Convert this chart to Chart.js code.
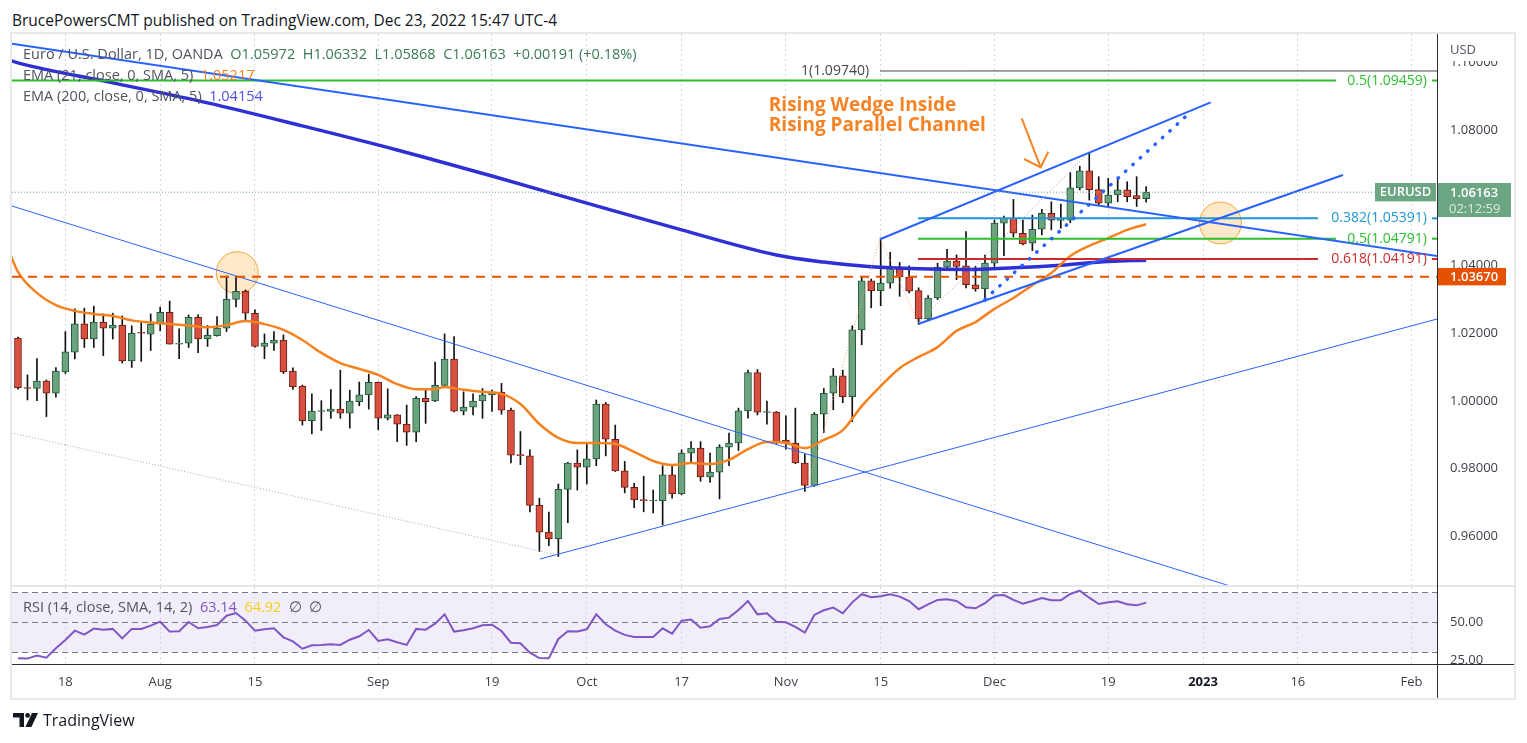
<!DOCTYPE html>
<html lang="en">
<head>
<meta charset="utf-8">
<title>EURUSD 1D - Rising Wedge Inside Rising Parallel Channel</title>
<script src="https://cdn.jsdelivr.net/npm/chart.js"></script>
<style>
    html, body { margin: 0; padding: 0; background: #ffffff; }
    body { position: relative; width: 1527px; height: 743px; overflow: hidden; font-family: "Open Sans", Roboto, sans-serif; color: #131722; }
    .abs { position: absolute; }
    #frame { left: 10px; top: 32px; width: 1506px; height: 668px; border: 2px solid #e6e8ee; box-sizing: border-box; }
    #main { left: 0; top: 0; }
    #rsi { left: 0; top: 586px; }
    #byline { left: 12px; top: 9px; font-size: 15.5px; line-height: 22px; color: #131722; white-space: pre; }
    .legend { left: 23px; font-size: 14.5px; line-height: 20px; color: #50535e; white-space: pre; }
    .ohlc { color: #3c7a55; }
    .v21 { color: #f5821f; }
    .v200 { color: #4f4fe6; }
    .vrsi { color: #7e57c2; }
    .vma { color: #f2cf1d; }
    .rule { background: #2a2e39; }
    .sep { background: #e4e6ec; }
    #brand { left: 13px; top: 709px; font-size: 16px; line-height: 22px; color: #131722; display: flex; align-items: center; }
    #brand svg { margin-right: 5px; }
</style>
</head>
<body>
<div id="frame" class="abs"></div>
<div id="byline" class="abs">BrucePowersCMT published on TradingView.com, Dec 23, 2022 15:47 UTC-4</div>
<canvas id="main" class="abs" width="1527" height="586"></canvas>
<canvas id="rsi" class="abs" width="1527" height="157"></canvas>

<div class="abs sep" style="left:12px; top:585px; width:1502px; height:2px;"></div>
<div class="abs rule" style="left:1437px; top:34px; width:1px; height:664px;"></div>
<div class="abs rule" style="left:12px; top:664px; width:1502px; height:1px;"></div>

<div class="abs legend" style="top:44px;">Euro / U.S. Dollar, 1D, OANDA  <span class="ohlc">O1.05972  H1.06332  L1.05868  C1.06163  +0.00191 (+0.18%)</span></div>
<div class="abs legend" style="top:65px;">EMA (21, close, 0, SMA, 5)  <span class="v21">1.05217</span></div>
<div class="abs legend" style="top:86px;">EMA (200, close, 0, SMA, 5)  <span class="v200">1.04154</span></div>
<div class="abs legend" style="top:597px;">RSI (14, close, SMA, 14, 2)  <span class="vrsi">63.14</span>  <span class="vma">64.92</span>  ∅  ∅</div>

<div id="brand" class="abs">
    <svg width="25" height="14" viewBox="0 0 25 14"><path d="M0 0h11v14H6.5V4.6H0z" fill="#131722"/><circle cx="14.6" cy="2.4" r="2.4" fill="#131722"/><path d="M19 0h6l-6.6 14h-6z" fill="#131722"/></svg>
    <span>TradingView</span>
</div>

<script>
(function () {
    "use strict";

    // Daily candles Jul 11 - Dec 23 2022, weekdays only (index 0 = Jul 11)
    var opens = [
        1.0186, 1.0039, 1.0037, 1.0059, 1.0023, 1.0086, 1.0144, 1.0228, 1.0183, 1.0233,
        1.0215, 1.0224, 1.0118, 1.0202, 1.0197, 1.0227, 1.0262, 1.0168, 1.0171, 1.0247,
        1.0183, 1.0193, 1.0215, 1.0300, 1.0324, 1.0259, 1.0161, 1.0171, 1.0180, 1.0088,
        1.0044, 0.9942, 0.9969, 0.9969, 0.9976, 0.9964, 0.9998, 1.0018, 1.0055, 0.9949,
        0.9959, 0.9932, 0.9908, 1.0008, 1.0000, 1.0046, 1.0124, 0.9970, 0.9982, 1.0000,
        1.0018, 1.0026, 0.9973, 0.9841, 0.9838, 0.9692, 0.9613, 0.9594, 0.9739, 0.9817,
        0.9805, 0.9829, 0.9991, 0.9887, 0.9794, 0.9745, 0.9708, 0.9705, 0.9706, 0.9782,
        0.9726, 0.9846, 0.9861, 0.9776, 0.9790, 0.9864, 0.9876, 0.9971, 1.0084, 0.9966,
        0.9967, 0.9885, 0.9876, 0.9817, 0.9751, 0.9961, 1.0023, 1.0074, 1.0013, 1.0210,
        1.0355, 1.0326, 1.0348, 1.0395, 1.0366, 1.0326, 1.0242, 1.0304, 1.0395, 1.0413,
        1.0399, 1.0343, 1.0331, 1.0407, 1.0525, 1.0539, 1.0495, 1.0466, 1.0507, 1.0554,
        1.0533, 1.0534, 1.0629, 1.0679, 1.0624, 1.0584, 1.0608, 1.0623, 1.0606, 1.05972
    ];
    var highs = [
        1.0189, 1.0077, 1.0125, 1.0062, 1.0099, 1.0205, 1.0272, 1.0274, 1.0280, 1.0257,
        1.0259, 1.0251, 1.0222, 1.0235, 1.0257, 1.0277, 1.0295, 1.0213, 1.0254, 1.0254,
        1.0223, 1.0249, 1.0369, 1.0367, 1.0328, 1.0269, 1.0198, 1.0205, 1.0195, 1.0098,
        1.0047, 1.0021, 1.0001, 1.0034, 1.0091, 1.0032, 1.0056, 1.0079, 1.0056, 1.0036,
        0.9960, 0.9988, 1.0013, 1.0032, 1.0115, 1.0198, 1.0190, 1.0027, 1.0021, 1.0037,
        1.0032, 1.0052, 0.9979, 0.9910, 0.9856, 0.9713, 0.9672, 0.9755, 0.9819, 0.9856,
        0.9876, 1.0003, 0.9996, 0.9929, 0.9822, 0.9757, 0.9778, 0.9737, 0.9809, 0.9812,
        0.9856, 0.9880, 0.9880, 0.9846, 0.9871, 0.9905, 0.9979, 1.0091, 1.0093, 1.0000,
        0.9969, 0.9956, 0.9979, 0.9843, 0.9966, 1.0037, 1.0096, 1.0091, 1.0222, 1.0368,
        1.0360, 1.0481, 1.0439, 1.0409, 1.0399, 1.0334, 1.0311, 1.0407, 1.0448, 1.0431,
        1.0500, 1.0397, 1.0431, 1.0534, 1.0546, 1.0595, 1.0534, 1.0549, 1.0566, 1.0588,
        1.0581, 1.0674, 1.0693, 1.0733, 1.0662, 1.0657, 1.0657, 1.0647, 1.0662, 1.06332
    ];
    var lows = [
        1.0035, 1.0003, 1.0001, 0.9954, 1.0011, 1.0081, 1.0124, 1.0158, 1.0158, 1.0134,
        1.0183, 1.0112, 1.0099, 1.0117, 1.0149, 1.0207, 1.0168, 1.0125, 1.0158, 1.0143,
        1.0161, 1.0191, 1.0205, 1.0278, 1.0239, 1.0159, 1.0125, 1.0149, 1.0081, 1.0034,
        0.9929, 0.9903, 0.9913, 0.9949, 0.9949, 0.9920, 0.9986, 0.9976, 0.9915, 0.9944,
        0.9880, 0.9869, 0.9880, 0.9934, 0.9998, 1.0043, 0.9968, 0.9959, 0.9959, 0.9949,
        0.9969, 0.9961, 0.9817, 0.9812, 0.9673, 0.9556, 0.9573, 0.9541, 0.9641, 0.9737,
        0.9755, 0.9809, 0.9838, 0.9792, 0.9729, 0.9685, 0.9673, 0.9670, 0.9634, 0.9713,
        0.9723, 0.9817, 0.9763, 0.9760, 0.9711, 0.9809, 0.9854, 0.9949, 0.9959, 0.9932,
        0.9874, 0.9858, 0.9815, 0.9733, 0.9748, 0.9907, 0.9974, 0.9995, 0.9939, 1.0166,
        1.0275, 1.0281, 1.0333, 1.0309, 1.0319, 1.0226, 1.0240, 1.0299, 1.0385, 1.0358,
        1.0334, 1.0324, 1.0294, 1.0397, 1.0429, 1.0484, 1.0461, 1.0444, 1.0490, 1.0505,
        1.0510, 1.0526, 1.0623, 1.0593, 1.0579, 1.0574, 1.0588, 1.0588, 1.0574, 1.05868
    ];
    var closes = [
        1.0039, 1.0037, 1.0059, 1.0023, 1.0088, 1.0145, 1.0228, 1.0183, 1.0233, 1.0215,
        1.0224, 1.0118, 1.0200, 1.0200, 1.0227, 1.0262, 1.0168, 1.0170, 1.0247, 1.0183,
        1.0194, 1.0215, 1.0300, 1.0324, 1.0259, 1.0161, 1.0171, 1.0180, 1.0086, 1.0042,
        0.9942, 0.9970, 0.9970, 0.9976, 0.9964, 1.0000, 1.0018, 1.0055, 0.9949, 0.9959,
        0.9932, 0.9908, 1.0008, 0.9998, 1.0046, 1.0124, 0.9970, 0.9982, 1.0000, 1.0018,
        1.0026, 0.9973, 0.9840, 0.9839, 0.9692, 0.9613, 0.9594, 0.9739, 0.9817, 0.9805,
        0.9829, 0.9991, 0.9887, 0.9794, 0.9745, 0.9708, 0.9706, 0.9707, 0.9782, 0.9726,
        0.9846, 0.9861, 0.9776, 0.9790, 0.9864, 0.9876, 0.9971, 1.0084, 0.9967, 0.9968,
        0.9877, 0.9877, 0.9817, 0.9751, 0.9961, 1.0023, 1.0074, 1.0013, 1.0210, 1.0355,
        1.0326, 1.0348, 1.0395, 1.0366, 1.0324, 1.0242, 1.0304, 1.0395, 1.0413, 1.0397,
        1.0343, 1.0331, 1.0407, 1.0525, 1.0539, 1.0495, 1.0464, 1.0507, 1.0554, 1.0534,
        1.0535, 1.0629, 1.0679, 1.0624, 1.0584, 1.0608, 1.0623, 1.0603, 1.0597, 1.06163
    ];

    // RSI (14)
    var rsi = [
        26.0, 25.8, 27.8, 26.4, 32.7, 38.2, 44.4, 41.8, 45.8, 45.1,
        45.6, 39.3, 45.6, 45.6, 47.8, 50.4, 43.8, 44.0, 50.2, 46.0,
        46.9, 48.2, 54.4, 56.2, 51.1, 44.4, 45.3, 46.0, 40.0, 37.3,
        32.4, 34.7, 34.9, 35.3, 34.9, 38.4, 40.7, 44.9, 37.6, 38.7,
        36.7, 34.9, 45.6, 45.1, 49.1, 55.3, 43.8, 44.7, 46.0, 48.0,
        48.4, 44.2, 36.4, 36.0, 29.8, 26.2, 26.0, 38.9, 44.0, 43.8,
        45.3, 55.3, 48.7, 44.4, 41.6, 40.2, 40.2, 40.2, 46.0, 42.4,
        51.1, 51.8, 46.4, 47.3, 52.2, 53.1, 58.2, 64.2, 55.3, 56.0,
        50.4, 50.0, 46.9, 43.1, 54.9, 58.0, 59.8, 56.0, 63.3, 68.7,
        66.7, 67.3, 68.7, 67.1, 64.2, 58.7, 62.0, 64.9, 65.3, 64.2,
        60.0, 59.3, 62.7, 67.8, 68.2, 64.9, 62.4, 64.2, 66.2, 64.7,
        64.7, 68.9, 71.1, 66.4, 62.2, 63.3, 64.0, 62.0, 61.3, 63.14
    ];

    // Moving averages, [bar index, value]
    var ema21 = [
        [-1, 1.0446], [0, 1.0381], [2, 1.0319], [4, 1.0283], [6, 1.0266], [8, 1.0257], [10, 1.0251],
        [12, 1.0238], [14, 1.0232], [16, 1.0227], [18, 1.0223], [20, 1.0218], [22, 1.0224], [24, 1.0236],
        [26, 1.0227], [28, 1.0210], [30, 1.0180], [32, 1.0142], [34, 1.0112], [36, 1.0095], [38, 1.0077],
        [40, 1.0050], [42, 1.0035], [44, 1.0035], [45, 1.0041], [47, 1.0033], [49, 1.0027], [51, 1.0021],
        [53, 0.9991], [55, 0.9932], [57, 0.9891], [59, 0.9876], [61, 0.9876], [63, 0.9873], [65, 0.9850],
        [67, 0.9823], [69, 0.9811], [71, 0.9817], [73, 0.9814], [75, 0.9826], [77, 0.9858], [79, 0.9879],
        [81, 0.9876], [83, 0.9861], [85, 0.9885], [87, 0.9914], [89, 0.9985], [91, 1.0044], [93, 1.0097],
        [95, 1.0130], [97, 1.0159], [99, 1.0207], [101, 1.0233], [103, 1.0272], [105, 1.0304], [107, 1.0342],
        [109, 1.0378], [111, 1.0428], [113, 1.0458], [115, 1.0481], [117, 1.0505], [119, 1.05217]
    ];
    var ema200 = [
        [-1, 1.1007], [0, 1.0998], [10, 1.0939], [20, 1.0880], [30, 1.0812], [40, 1.0741], [50, 1.0664],
        [60, 1.0584], [70, 1.0505], [80, 1.0431], [85, 1.0410], [90, 1.0396], [95, 1.0390], [100, 1.0388],
        [105, 1.0393], [110, 1.0401], [115, 1.0412], [119, 1.04154]
    ];

    // Axes
    var dayTicks = [5, 15, 25, 38, 50, 60, 70, 81, 91, 103, 115, 125, 135, 147];
    var dayLabels = ["18", "Aug", "15", "Sep", "19", "Oct", "17", "Nov", "15", "Dec", "19", "2023", "16", "Feb"];
    var priceTicks = [0.96, 0.98, 1.00, 1.02, 1.04, 1.06, 1.08, 1.10];
    var rsiTicks = [25, 50];
    var rsiLevels = [70, 50, 30];

    // Drawings, [bar index, price]
    var lineA = [[-0.7, 1.10550], [149.7, 1.04280]];
    var lineB = [[-0.7, 1.05760], [127.85, 0.94540]];
    var lineC = [[55.06, 0.95336], [149.7, 1.02420]];
    var wedgeTop = [[90.93, 1.04773], [125.81, 1.08816]];
    var wedgeLow = [[94.94, 1.02273], [139.77, 1.06671]];
    var wedgeDots = [[102.0, 1.03002], [123.81, 1.08560]];
    var swingPath = [[83.36, 0.97571], [90.93, 1.04802], [94.97, 1.02302]];
    var swingLine = [[94.94, 1.02302], [112.87, 1.07320]];
    var lowPath = [[-0.7, 0.99062], [56.90, 0.95455]];
    var arrowShaft = [[105.87, 1.08344], [107.88, 1.06898]];
    var arrowHead = [[106.12, 1.07143], [107.88, 1.06898], [108.68, 1.07358]];
    var circles = [[23.13, 1.03787], [126.83, 1.05254]];
    var noteAt = [[79.2, 1.08560], [79.2, 1.07969]];
    var noteText = ["Rising Wedge Inside", "Rising Parallel Channel"];

    // Fibonacci levels
    var fibNames = ["1", "0.5", "0.382", "0.5", "0.618"];
    var fibLevels = [1.09740, 1.09459, 1.05391, 1.04791, 1.04191];
    var fibFrom = [90.93, -0.7, 94.94, 94.94, 94.94];
    var fibTo = [149.7, 139.03, 137.13, 139.03, 137.13];

    var lastPrice = 1.06163;
    var keyLevel = 1.03670;
    var countdown = "02:12:59";


    // Chart Global
    Chart.defaults.font.family = '"Open Sans", Roboto, sans-serif';
    Chart.defaults.font.size = 13;
    Chart.defaults.color = "#3b3f4a";

    var xMin = -0.63, xMax = 149.68;
    var fibColors = ["#474747", "#2cbf2c", "#2196d3", "#2cbf2c", "#cc2b2b"];
    var upFill = "#6ba37e", downFill = "#d8503f", upEdge = "#21573a", downEdge = "#6b1b13";

    var pts = function (pairs) {
        return pairs.map(function (p) { return {x: p[0], y: p[1]}; });
    };

    var seg = function (pairs, color, width, dash, extra) {
        var ds = {
            type: "line",
            data: pts(pairs),
            borderColor: color,
            borderWidth: width,
            borderDash: dash || [],
            pointRadius: 0,
            tension: 0,
            fill: false,
            order: 3
        };
        if (extra) {
            Object.keys(extra).forEach(function (k) { ds[k] = extra[k]; });
        }
        return ds;
    };

    var idx = closes.map(function (c, i) { return i; });
    var up = idx.map(function (i) { return closes[i] >= opens[i]; });


    // Price pane overlay: fib labels, notes and price tags
    var priceOverlay = {
        id: "priceOverlay",
        afterDatasetsDraw: function (chart) {
            var ctx = chart.ctx, sx = chart.scales.x, sy = chart.scales.y;
            ctx.save();
            ctx.font = '14px "Open Sans", sans-serif';
            ctx.textBaseline = "middle";
            ctx.textAlign = "right";
            fibLevels.forEach(function (lvl, k) {
                var yy = sy.getPixelForValue(lvl);
                var txt = fibNames[k] + "(" + lvl.toFixed(5) + ")";
                ctx.fillStyle = fibColors[k];
                if (k === 0) {
                    ctx.fillText(txt, sx.getPixelForValue(fibFrom[k]) - 11, yy);
                } else {
                    ctx.fillText(txt, sx.right - 10, yy);
                    ctx.fillRect(sx.right - 5, yy - 1, 5, 2);
                }
            });

            ctx.font = 'bold 19px "Open Sans", sans-serif';
            ctx.textAlign = "left";
            ctx.textBaseline = "alphabetic";
            ctx.fillStyle = "#f68426";
            noteText.forEach(function (t, k) {
                ctx.fillText(t, sx.getPixelForValue(noteAt[k][0]), sy.getPixelForValue(noteAt[k][1]));
            });
            ctx.restore();
        },
        afterDraw: function (chart) {
            var ctx = chart.ctx, sx = chart.scales.x, sy = chart.scales.y;
            var yl = sy.getPixelForValue(lastPrice);
            var yk = sy.getPixelForValue(keyLevel);
            ctx.save();

            // axis unit
            ctx.fillStyle = "#ffffff";
            ctx.fillRect(sy.left + 1, sy.top, 75, 27);
            ctx.fillStyle = "#50535e";
            ctx.font = '13px "Open Sans", sans-serif';
            ctx.textBaseline = "middle";
            ctx.textAlign = "left";
            ctx.fillText("USD", sy.left + 13, sy.top + 16);

            // last price tags
            ctx.fillStyle = "#6ba583";
            ctx.fillRect(sx.right - 62, yl - 9.2, 61, 18.4);
            ctx.fillRect(sy.left, yl - 9.2, 74, 34);
            ctx.fillStyle = "#ffffff";
            ctx.font = '600 13px "Open Sans", sans-serif';
            ctx.textAlign = "center";
            ctx.fillText("EURUSD", sx.right - 31.5, yl + 0.5);
            ctx.textAlign = "left";
            ctx.fillText(lastPrice.toFixed(5), sy.left + 13, yl + 1);
            ctx.fillStyle = "rgba(255,255,255,0.78)";
            ctx.font = '13px "Open Sans", sans-serif';
            ctx.fillText(countdown, sy.left + 12, yl + 17);

            // key level tag
            ctx.fillStyle = "#e65100";
            ctx.fillRect(sy.left, yk - 8.7, 69, 17.4);
            ctx.fillStyle = "#ffffff";
            ctx.font = '600 13px "Open Sans", sans-serif';
            ctx.fillText(keyLevel.toFixed(5), sy.left + 13, yk + 0.5);
            ctx.restore();
        }
    };


    // Price Chart
    var priceSets = [
        {
            type: "bubble",
            data: pts(circles),
            radius: 21,
            backgroundColor: "rgba(255, 167, 38, 0.25)",
            borderColor: "#f7a43a",
            borderWidth: 1,
            order: 20
        },
        {
            type: "bar",
            data: idx.map(function (i) { return {x: i, y: [lows[i], highs[i]]}; }),
            backgroundColor: "#111111",
            barThickness: 1,
            maxBarThickness: 1,
            grouped: false,
            order: 10
        },
        {
            type: "bar",
            data: idx.map(function (i) { return {x: i, y: [opens[i], closes[i]]}; }),
            backgroundColor: idx.map(function (i) { return up[i] ? upFill : downFill; }),
            borderColor: idx.map(function (i) { return up[i] ? upEdge : downEdge; }),
            borderWidth: 1,
            borderSkipped: false,
            barThickness: 7,
            maxBarThickness: 7,
            minBarLength: 1,
            grouped: false,
            order: 9
        },
        seg(ema200, "#2f2fd6", 3.5, null, {cubicInterpolationMode: "monotone", order: 6}),
        seg(ema21, "#f5821f", 2.5, null, {cubicInterpolationMode: "monotone", order: 5}),
        seg(lowPath, "#a8a8a8", 1, [1, 2]),
        seg(swingPath, "#f5a25c", 1, [1, 2]),
        seg(swingLine, "#a8a8a8", 1, [1, 2]),
        seg([[xMin, keyLevel], [xMax, keyLevel]], "#e65100", 2, [9, 7]),
        seg([[xMin, lastPrice], [143.1, lastPrice]], "#6ba583", 1, [1, 2]),
        seg(lineA, "#2962ff", 2),
        seg(lineB, "#2962ff", 1),
        seg(lineC, "#2962ff", 1),
        seg(wedgeTop, "#2962ff", 2),
        seg(wedgeLow, "#2962ff", 2),
        seg(wedgeDots, "#2962ff", 3.5, [0.5, 9.5], {borderCapStyle: "round"}),
        seg(arrowShaft, "#f68426", 2),
        seg(arrowHead, "#f68426", 2)
    ];
    fibLevels.forEach(function (lvl, k) {
        priceSets.push(seg([[fibFrom[k], lvl], [fibTo[k], lvl]], fibColors[k], k === 0 ? 1 : 2));
    });

    new Chart(document.getElementById("main"), {
        type: "bar",
        data: { datasets: priceSets },
        options: {
            responsive: false,
            animation: false,
            events: [],
            layout: { autoPadding: false, padding: { top: 34, left: 12, right: 0, bottom: 0 } },
            plugins: { legend: { display: false }, tooltip: { enabled: false } },
            scales: {
                x: {
                    type: "linear",
                    min: xMin,
                    max: xMax,
                    offset: false,
                    grid: { color: "#d3d6dd", drawTicks: false, offset: false },
                    border: { display: false, dash: [2, 3] },
                    ticks: { display: false },
                    afterBuildTicks: function (s) {
                        s.ticks = dayTicks.map(function (v) { return {value: v}; });
                    },
                    afterFit: function (s) { s.height = 0; s.paddingLeft = 0; s.paddingRight = 0; }
                },
                y: {
                    type: "linear",
                    position: "right",
                    min: 0.94540,
                    max: 1.10832,
                    grid: { display: false, drawTicks: false },
                    border: { display: false },
                    ticks: {
                        padding: 13,
                        color: "#3b3f4a",
                        callback: function (v) { return v.toFixed(5); }
                    },
                    afterBuildTicks: function (s) {
                        s.ticks = priceTicks.map(function (v) { return {value: v}; });
                    },
                    afterFit: function (s) { s.width = 90; s.paddingTop = 0; s.paddingBottom = 0; }
                }
            }
        },
        plugins: [priceOverlay]
    });


    // RSI pane background and levels
    var rsiBands = {
        id: "rsiBands",
        beforeDraw: function (chart) {
            var ctx = chart.ctx, a = chart.chartArea, sy = chart.scales.y;
            var top = sy.getPixelForValue(rsiLevels[0]);
            var bottom = sy.getPixelForValue(rsiLevels[2]);
            ctx.save();
            ctx.fillStyle = "rgba(126, 87, 194, 0.1)";
            ctx.fillRect(a.left, top, a.right - a.left, bottom - top);
            ctx.restore();
        },
        beforeDatasetsDraw: function (chart) {
            var ctx = chart.ctx, a = chart.chartArea, sy = chart.scales.y;
            ctx.save();
            ctx.strokeStyle = "#787b86";
            ctx.lineWidth = 1;
            ctx.setLineDash([6, 4]);
            rsiLevels.forEach(function (lvl) {
                var yy = Math.round(sy.getPixelForValue(lvl)) + 0.5;
                ctx.beginPath();
                ctx.moveTo(a.left, yy);
                ctx.lineTo(a.right, yy);
                ctx.stroke();
            });
            ctx.restore();
        }
    };


    // RSI Chart
    new Chart(document.getElementById("rsi"), {
        type: "line",
        data: {
            datasets: [{
                data: rsi.map(function (v, i) { return {x: i, y: v}; }),
                borderColor: "#7e57c2",
                borderWidth: 2,
                pointRadius: 0,
                tension: 0,
                fill: false
            }]
        },
        options: {
            responsive: false,
            animation: false,
            events: [],
            layout: { autoPadding: false, padding: { top: 1, left: 12, right: 0, bottom: 45 } },
            plugins: { legend: { display: false }, tooltip: { enabled: false } },
            scales: {
                x: {
                    type: "linear",
                    min: xMin,
                    max: xMax,
                    offset: false,
                    grid: { color: "#d3d6dd", drawTicks: false, offset: false },
                    border: { display: false, dash: [2, 3] },
                    ticks: {
                        padding: 10,
                        maxRotation: 0,
                        autoSkip: false,
                        color: function (c) { return c.tick && c.tick.value === 125 ? "#131722" : "#3b3f4a"; },
                        font: function (c) {
                            return { size: 13, weight: c.tick && c.tick.value === 125 ? "bold" : "normal" };
                        },
                        callback: function (v) { return dayLabels[dayTicks.indexOf(v)]; }
                    },
                    afterBuildTicks: function (s) {
                        s.ticks = dayTicks.map(function (v) { return {value: v}; });
                    },
                    afterFit: function (s) { s.height = 34; s.paddingLeft = 0; s.paddingRight = 0; }
                },
                y: {
                    type: "linear",
                    position: "right",
                    min: 22.2,
                    max: 73.53,
                    grid: { display: false, drawTicks: false },
                    border: { display: false },
                    ticks: {
                        padding: 13,
                        color: "#3b3f4a",
                        callback: function (v) { return v.toFixed(2); }
                    },
                    afterBuildTicks: function (s) {
                        s.ticks = rsiTicks.map(function (v) { return {value: v}; });
                    },
                    afterFit: function (s) { s.width = 90; s.paddingTop = 0; s.paddingBottom = 0; }
                }
            }
        },
        plugins: [rsiBands]
    });

})();
</script>
</body>
</html>
